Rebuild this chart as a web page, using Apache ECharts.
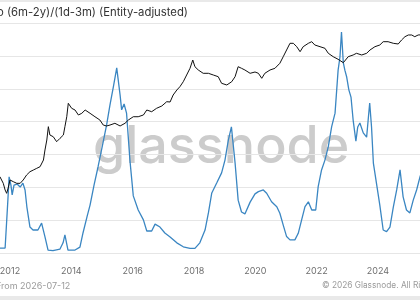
<!DOCTYPE html>
<html>
<head>
<meta charset="utf-8">
<script src="https://cdn.jsdelivr.net/npm/echarts@6/dist/echarts.min.js"></script>
<style>
  html, body { margin: 0; padding: 0; background: #fff; }
  #chart { width: 420px; height: 300px; }
</style>
</head>
<body>
<div id="chart"></div>
<script>
// HODL ratio (6m-2y)/(1d-3m), entity-adjusted
const ratioYears = [
  2011.67, 2011.84, 2011.90, 2011.93, 2011.97, 2012.03, 2012.07, 2012.13, 2012.23, 2012.33,
  2012.42, 2012.49, 2012.55, 2012.65, 2012.75, 2012.91, 2013.03, 2013.14, 2013.24, 2013.40,
  2013.63, 2013.73, 2013.79, 2013.89, 2014.12, 2014.28, 2014.38, 2014.51, 2014.61, 2014.74,
  2014.87, 2015.03, 2015.15, 2015.26, 2015.37, 2015.48, 2015.59, 2015.64, 2015.72, 2015.80,
  2015.91, 2016.02, 2016.18, 2016.35, 2016.46, 2016.62, 2016.73, 2016.89, 2017.05, 2017.22,
  2017.44, 2017.65, 2017.87, 2018.03, 2018.19, 2018.36, 2018.47, 2018.58, 2018.74, 2018.90,
  2019.01, 2019.12, 2019.22, 2019.34, 2019.44, 2019.55, 2019.66, 2019.83, 2019.99, 2020.10,
  2020.26, 2020.37, 2020.53, 2020.70, 2020.80, 2020.91, 2021.02, 2021.13, 2021.29, 2021.40,
  2021.51, 2021.62, 2021.73, 2021.84, 2021.97, 2022.05, 2022.16, 2022.27, 2022.38, 2022.49,
  2022.60, 2022.70, 2022.76, 2022.81, 2022.87, 2022.92, 2022.98, 2023.05, 2023.12, 2023.19,
  2023.28, 2023.34, 2023.41, 2023.52, 2023.63, 2023.68, 2023.73, 2023.79, 2023.85, 2023.96,
  2024.06, 2024.17, 2024.28, 2024.39, 2024.50, 2024.61, 2024.72, 2024.82, 2024.93, 2025.04,
  2025.15, 2025.26, 2025.37, 2025.50
]
const ratioValues = [
  0.15, 0.15, 0.21, 1.61, 2.32, 2.07, 1.77, 2.07, 2.10, 2.01,
  2.13, 1.92, 1.40, 0.79, 0.70, 0.70, 0.91, 0.49, 0.09, 0.07,
  0.12, 0.31, 0.55, 0.09, 0.09, 0.18, 0.61, 1.10, 1.46, 2.07,
  2.62, 3.35, 3.90, 4.51, 5.06, 5.64, 4.81, 4.36, 4.54, 4.26,
  2.83, 1.74, 1.31, 1.01, 0.67, 0.67, 0.88, 0.79, 0.61, 0.49,
  0.31, 0.19, 0.14, 0.14, 0.31, 0.70, 1.22, 1.83, 2.13, 2.44,
  2.83, 3.44, 3.84, 2.74, 1.61, 1.25, 1.19, 1.55, 1.80, 1.87,
  1.92, 1.82, 1.56, 1.41, 1.21, 0.85, 0.50, 0.40, 0.40, 0.60,
  1.01, 1.41, 1.56, 1.31, 1.31, 2.02, 2.53, 2.83, 3.24, 3.85,
  4.26, 5.57, 5.97, 6.73, 5.79, 5.57, 5.36, 4.97, 4.75, 4.05,
  3.41, 3.84, 3.96, 3.66, 3.53, 4.05, 4.57, 3.84, 2.74, 2.07,
  1.46, 0.70, 0.65, 0.79, 1.40, 1.92, 2.53, 1.71, 1.31, 1.22,
  1.61, 1.92, 2.32, 2.70
]

// BTC price (USD), log scale
const priceYears = [
  2011.67, 2011.78, 2011.84, 2011.89, 2011.94, 2012.00, 2012.11, 2012.22, 2012.33, 2012.43,
  2012.54, 2012.65, 2012.76, 2012.87, 2012.98, 2013.09, 2013.14, 2013.20, 2013.25, 2013.30,
  2013.41, 2013.52, 2013.63, 2013.74, 2013.79, 2013.85, 2013.90, 2014.01, 2014.12, 2014.23,
  2014.34, 2014.45, 2014.61, 2014.77, 2014.93, 2015.04, 2015.15, 2015.26, 2015.42, 2015.59,
  2015.75, 2015.86, 2016.02, 2016.18, 2016.35, 2016.46, 2016.62, 2016.78, 2016.95, 2017.11,
  2017.22, 2017.32, 2017.44, 2017.54, 2017.65, 2017.76, 2017.87, 2017.96, 2018.03, 2018.14,
  2018.30, 2018.47, 2018.63, 2018.79, 2018.90, 2019.07, 2019.23, 2019.34, 2019.44, 2019.55,
  2019.66, 2019.83, 2019.99, 2020.10, 2020.21, 2020.31, 2020.48, 2020.64, 2020.80, 2020.91,
  2021.02, 2021.13, 2021.24, 2021.35, 2021.46, 2021.56, 2021.73, 2021.84, 2021.94, 2022.11,
  2022.27, 2022.38, 2022.54, 2022.70, 2022.87, 2023.03, 2023.19, 2023.30, 2023.47, 2023.63,
  2023.74, 2023.90, 2024.06, 2024.17, 2024.33, 2024.50, 2024.66, 2024.77, 2024.88, 2024.99,
  2025.10, 2025.20, 2025.31, 2025.37, 2025.50
]
const priceValues = [
  5.90, 3.71, 2.32, 1.84, 2.67, 4.68, 4.15, 3.71, 3.71, 4.68,
  6.64, 8.37, 9.43, 10.6, 11.9, 19.0, 38.4, 77.4, 197, 110,
  97.5, 68.7, 87.1, 110, 197, 396, 1015, 715, 634, 447,
  503, 634, 503, 396, 315, 221, 207, 221, 250, 207,
  250, 315, 396, 396, 447, 634, 563, 715, 840, 1135,
  1112, 1816, 2578, 3250, 4614, 7383, 11810, 21140, 13220, 10490,
  8320, 8320, 7383, 6560, 4127, 3664, 4614, 6560, 13220, 11810,
  10490, 8320, 9120, 8320, 5860, 8320, 10490, 11810, 16790, 26670,
  42660, 68230, 68230, 53750, 37850, 53750, 68230, 76350, 60560, 53750,
  48060, 33830, 26670, 22220, 17500, 26670, 30060, 33830, 30060, 33830,
  42660, 53750, 60560, 76350, 76350, 68230, 65000, 85950, 108400, 122200,
  122200, 108400, 122200, 131000, 125000
]

const xTicks = [2012, 2014, 2016, 2018, 2020, 2022, 2024]

const chart = echarts.init(document.getElementById('chart'), null, { renderer: 'canvas' })

const option = {
  backgroundColor: '#ffffff',
  animation: false,
  grid: {
    left: -51.3,
    right: -19.3,
    top: 23.2,
    bottom: 47,
    containLabel: false,
    outerBoundsMode: 'none'
  },
  xAxis: {
    type: 'value',
    min: 2010,
    max: 2026,
    interval: 2,
    axisLine: { show: false },
    axisTick: { show: false },
    splitLine: { show: false },
    axisLabel: {
      margin: 14,
      color: '#6e6e6e',
      fontSize: 9,
      fontFamily: 'Inter',
      formatter: v => (xTicks.includes(v) ? String(v) : '')
    }
  },
  yAxis: [
    {
      type: 'value',
      min: 0,
      max: 7,
      interval: 1,
      axisLine: { show: false },
      axisTick: { show: false },
      axisLabel: { show: false },
      splitLine: { lineStyle: { color: '#e6e6e6', width: 1 } }
    },
    {
      type: 'log',
      logBase: 10,
      min: 0.028,
      max: 279300,
      axisLine: { show: false },
      axisTick: { show: false },
      axisLabel: { show: false },
      splitLine: { show: false }
    }
  ],
  graphic: [
    // top / bottom panel bands
    { type: 'rect', shape: { x: 0, y: 0, width: 420, height: 2 }, style: { fill: '#e9e9e9' }, z: 1 },
    { type: 'rect', shape: { x: 0, y: 296, width: 420, height: 4 }, style: { fill: '#e9e9e9' }, z: 1 },
    {
      type: 'text', x: -3, y: 13, z: 1,
      style: {
        text: 'o (6m-2y)/(1d-3m) (Entity-adjusted)',
        fill: '#333333', font: '11.3px Inter', verticalAlign: 'middle'
      }
    },
    {
      type: 'text', x: 93, y: 147, z: 0,
      style: {
        text: 'glassnode',
        fill: '#cccccc', font: '500 52px Inter', verticalAlign: 'middle'
      }
    },
    {
      type: 'text', x: -4, y: 286, z: 1,
      style: { text: 'From 2026-07-12', fill: '#9a9a9a', font: '9px Inter', verticalAlign: 'middle' }
    },
    {
      type: 'text', x: 322, y: 286, z: 1,
      style: { text: '© 2026 Glassnode. All Rights Reserved.', fill: '#9a9a9a', font: '8.3px Inter', verticalAlign: 'middle' }
    }
  ],
  series: [
    {
      name: 'Ratio',
      type: 'line',
      yAxisIndex: 0,
      showSymbol: false,
      z: 3,
      lineStyle: { color: '#3a86c2', width: 1.3 },
      data: ratioYears.map((y, i) => [y, ratioValues[i]])
    },
    {
      name: 'Price',
      type: 'line',
      yAxisIndex: 1,
      showSymbol: false,
      z: 4,
      lineStyle: { color: '#111111', width: 1 },
      data: priceYears.map((y, i) => [y, priceValues[i]])
    }
  ]
}

chart.setOption(option)
</script>
</body>
</html>
